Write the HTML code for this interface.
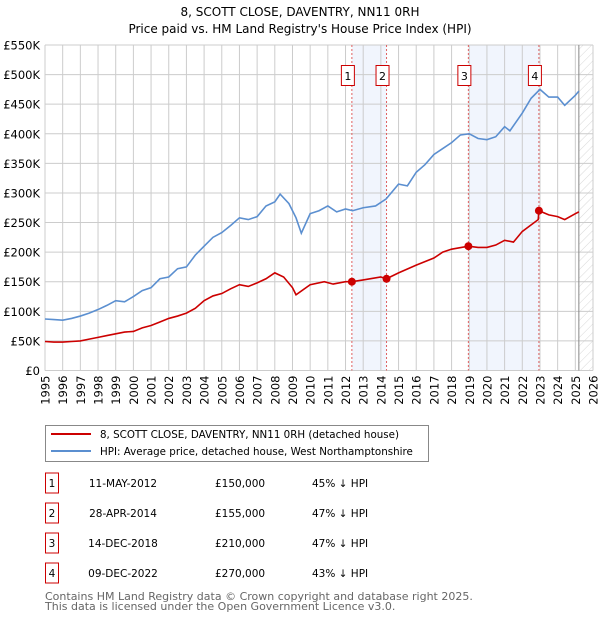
<!DOCTYPE html>
<html><head><meta charset="utf-8"><style>
body{margin:0;background:#fff;font-family:"Liberation Sans","DejaVu Sans",sans-serif;}
#wrap{position:relative;width:600px;height:620px;overflow:hidden;}
svg text{font-family:"DejaVu Sans","Liberation Sans",sans-serif;}
</style></head><body>
<div id="wrap">
<svg id="chart" width="600" height="620"></svg>
</div>
<script>
const yTicks=[0,50,100,150,200,250,300,350,400,450,500,550];
const years=[1995,1996,1997,1998,1999,2000,2001,2002,2003,2004,2005,2006,2007,2008,2009,2010,2011,2012,2013,2014,2015,2016,2017,2018,2019,2020,2021,2022,2023,2024,2025,2026];
const hpiX=[1995,1995.5,1996,1996.5,1997,1997.5,1998,1998.5,1999,1999.5,2000,2000.5,2001,2001.5,2002,2002.5,2003,2003.5,2004,2004.5,2005,2005.5,2006,2006.5,2007,2007.5,2008,2008.3,2008.8,2009.2,2009.5,2010,2010.5,2011,2011.5,2012,2012.4,2013,2013.7,2014.3,2015,2015.5,2016,2016.5,2017,2017.5,2018,2018.5,2019,2019.5,2020,2020.5,2021,2021.3,2022,2022.5,2023,2023.5,2024,2024.4,2025,2025.2];
const hpiY=[87,86,85,88,92,97,103,110,118,116,125,135,140,155,158,172,175,195,210,225,233,245,258,255,260,278,285,298,282,258,232,265,270,278,268,273,270,275,278,290,315,312,335,348,365,375,385,398,400,392,390,395,412,405,435,460,475,462,462,448,465,472];
const redX=[1995,1995.5,1996,1996.5,1997,1997.5,1998,1998.5,1999,1999.5,2000,2000.5,2001,2001.5,2002,2002.5,2003,2003.5,2004,2004.5,2005,2005.5,2006,2006.5,2007,2007.5,2008,2008.5,2009,2009.2,2010,2010.8,2011.3,2012,2012.36,2013,2014,2014.32,2015,2016,2017,2017.5,2018,2018.95,2019.5,2020,2020.5,2021,2021.5,2022,2022.9,2022.94,2023.5,2024,2024.4,2025,2025.2];
const redY=[49,48,48,49,50,53,56,59,62,65,66,72,76,82,88,92,97,105,118,126,130,138,145,142,148,155,165,158,140,128,145,150,146,150,150,153,158,155,165,178,190,200,205,210,208,208,212,220,217,235,255,270,263,260,255,265,268];
const saleX=[2012.36,2014.32,2018.95,2022.94];
const saleY=[150,155,210,270];
const saleLbl=["1","2","3","4"];
const L=45,R=593,T=45,B=370.5;
const X=y=>L+(y-1995)*(R-L)/31;
const Y=v=>B-v*(B-T)/550;
const svg=document.getElementById('chart');
const NS='http://www.w3.org/2000/svg';
function mk(tag,attrs,parent){const e=document.createElementNS(NS,tag);for(const k in attrs)e.setAttribute(k,attrs[k]);(parent||svg).appendChild(e);return e;}
let t;
t=mk('text',{x:300,y:16,'text-anchor':'middle','font-size':12,fill:'#000'});t.textContent='8, SCOTT CLOSE, DAVENTRY, NN11 0RH';


t=mk('text',{x:300,y:33,'text-anchor':'middle','font-size':12,fill:'#000'});t.textContent="Price paid vs. HM Land Registry's House Price Index (HPI)";


[[0,1],[2,3]].forEach(p=>{const r=mk('rect',{x:X(saleX[p[0]]),y:T,width:X(saleX[p[1]])-X(saleX[p[0]]),height:B-T,fill:'#eef3fc',opacity:0.8});

});
const defs=mk('defs',{});const pat=mk('pattern',{id:'h',width:6,height:6,patternUnits:'userSpaceOnUse',patternTransform:'rotate(45)'},defs);mk('line',{x1:0,y1:0,x2:0,y2:6,stroke:'#d8d8d8','stroke-width':1},pat);
const hr=mk('rect',{x:X(2025.2),y:T,width:R-X(2025.2),height:B-T,fill:'url(#h)'});


years.forEach(yr=>{const l=mk('line',{x1:X(yr),x2:X(yr),y1:T,y2:B,stroke:'#ccc','stroke-width':1});


const tx=mk('text',{x:0,y:0,'font-size':11.5,'text-anchor':'end',transform:`translate(${X(yr)+4.5},${B+5}) rotate(-90)`,fill:'#000'});tx.textContent=yr;

});
yTicks.forEach(v=>{const l=mk('line',{x1:L,x2:R,y1:Y(v),y2:Y(v),stroke:'#ccc','stroke-width':1});


const tx=mk('text',{x:40,y:Y(v)+4.5,'font-size':11.5,'text-anchor':'end',fill:'#000'});tx.textContent=v===0?'£0':'£'+v+'K';

});
const ax=mk('line',{x1:X(2025.2),x2:X(2025.2),y1:T,y2:B,stroke:'#888','stroke-width':1});


saleX.forEach((sx,i)=>{const l=mk('line',{x1:X(sx),x2:X(sx),y1:T,y2:B,stroke:'#e06060','stroke-width':1,'stroke-dasharray':'2,2'});


const bx=mk('rect',{x:X(sx)-10.5,y:65.5,width:13,height:20,fill:'#fff',stroke:'#cc0000'});


const tx=mk('text',{x:X(sx)-4,y:80,'font-size':11,'text-anchor':'middle'});tx.textContent=saleLbl[i];

});
function line(xs,ys,col,name){const p=mk('polyline',{points:xs.map((x,i)=>X(x)+','+Y(ys[i])).join(' '),fill:'none',stroke:col,'stroke-width':1.6});

}
line(hpiX,hpiY,'#5b8fd0','hpi-line');
line(redX,redY,'#cc0000','price-paid-line');
saleX.forEach((sx,i)=>{const c=mk('circle',{cx:X(sx),cy:Y(saleY[i]),r:4,fill:'#cc0000'});

});
const lg=mk('rect',{x:45.5,y:425.5,width:383,height:36,fill:'#fff',stroke:'#888'});


mk('line',{x1:51,x2:91,y1:434,y2:434,stroke:'#cc0000','stroke-width':2});
mk('line',{x1:51,x2:91,y1:451,y2:451,stroke:'#5b8fd0','stroke-width':2});
t=mk('text',{x:100,y:438,'font-size':10.3});t.textContent='8, SCOTT CLOSE, DAVENTRY, NN11 0RH (detached house)';


t=mk('text',{x:100,y:455,'font-size':10.3});t.textContent='HPI: Average price, detached house, West Northamptonshire';


const dates=['11-MAY-2012','28-APR-2014','14-DEC-2018','09-DEC-2022'];
const prices=['£150,000','£155,000','£210,000','£270,000'];
const pcts=['45% ↓ HPI','47% ↓ HPI','47% ↓ HPI','43% ↓ HPI'];
dates.forEach((d,i)=>{const cy=483+30*i;
const b=mk('rect',{x:45.5,y:cy-10,width:13,height:20,fill:'#fff',stroke:'#cc0000'});


let a=mk('text',{x:52,y:cy+4,'font-size':10.5,'text-anchor':'middle'});a.textContent=saleLbl[i];
a=mk('text',{x:123,y:cy+4,'font-size':10.5,'text-anchor':'middle'});a.textContent=d;


a=mk('text',{x:215,y:cy+4,'font-size':10.5});a.textContent=prices[i];


a=mk('text',{x:312,y:cy+4,'font-size':10.5});a.textContent=pcts[i];

});
t=mk('text',{x:45,y:600,'font-size':11,fill:'#666'});t.textContent='Contains HM Land Registry data © Crown copyright and database right 2025.';


t=mk('text',{x:45,y:610,'font-size':11,fill:'#666'});t.textContent='This data is licensed under the Open Government Licence v3.0.';


</script>
</body></html>
